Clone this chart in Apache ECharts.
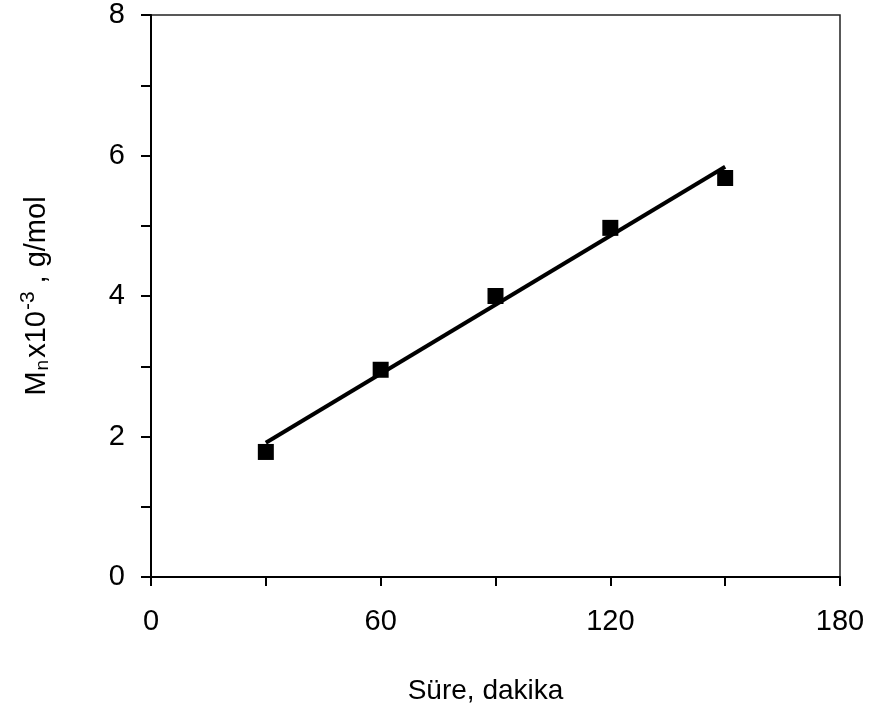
<!DOCTYPE html>
<html>
<head>
<meta charset="utf-8">
<script src="https://cdn.jsdelivr.net/npm/echarts@6/dist/echarts.min.js"></script>
<style>
  html, body { margin: 0; padding: 0; background: #fff; }
  #chart { width: 873px; height: 722px; }
</style>
</head>
<body>
<div id="chart"></div>
<script>
// ölçüm noktaları (süre, dakika -> Mn x 10^-3)
var times = [30, 60, 90, 120, 150];
var mnValues = [1.78, 2.95, 4.0, 4.97, 5.68];
// doğrusal eğilim çizgisinin uçları
var fitTimes = [30, 150];
var fitValues = [1.91, 5.84];

var font = 'Liberation Sans, Arial, sans-serif';

function pairs(xs, ys){
    var out = [];
    for (var i = 0; i < xs.length; i++) out.push([xs[i], ys[i]]);
    return out;
}

var chart = echarts.init(document.getElementById('chart'));
var option = {
    backgroundColor: '#fff',
    animation: false,
    grid: {
        left: 151,
        right: 33,
        top: 15,
        bottom: 145,
        show: true,
        borderColor: '#222',
        borderWidth: 1.5
    },
    xAxis: {
        type: 'value',
        min: 0,
        max: 180,
        interval: 30,
        name: 'Süre, dakika',
        nameLocation: 'middle',
        nameGap: 100,
        nameTextStyle: { fontFamily: font, fontSize: 28, color: '#000', padding: [0, 20, 0, 0] },
        axisLine: { onZero: false, lineStyle: { color: '#000', width: 2 } },
        axisTick: { show: true, length: 9, lineStyle: { color: '#000', width: 2 } },
        axisLabel: {
            margin: 30,
            fontFamily: font,
            fontSize: 29,
            color: '#000',
            formatter: function (v) { return v % 60 === 0 ? String(v) : ''; }
        },
        splitLine: { show: false }
    },
    yAxis: {
        type: 'value',
        min: 0,
        max: 8,
        interval: 1,
        name: '{b|M}{s|n}{b|x10}{p|-3}{b|, g/mol}',
        nameLocation: 'middle',
        nameGap: 92,
        nameTextStyle: {
            fontFamily: font,
            fontSize: 29,
            color: '#000',
            rich: {
                b: { fontFamily: font, fontSize: 29, color: '#000', lineHeight: 44, verticalAlign: 'middle' },
                s: { fontFamily: font, fontSize: 19, color: '#000', lineHeight: 44, verticalAlign: 'middle', padding: [12, 2, 0, 1] },
                p: { fontFamily: font, fontSize: 21, color: '#000', lineHeight: 44, verticalAlign: 'middle', padding: [0, 8, 18, 1] }
            }
        },
        axisLine: { onZero: false, lineStyle: { color: '#000', width: 2 } },
        axisTick: { show: true, length: 10, lineStyle: { color: '#000', width: 2 } },
        axisLabel: {
            margin: 26,
            fontFamily: font,
            fontSize: 29,
            color: '#000',
            formatter: function (v) { return v % 2 === 0 ? String(v) : ''; }
        },
        splitLine: { show: false }
    },
    series: [{
        name: 'fit',
        type: 'line',
        data: pairs(fitTimes, fitValues),
        showSymbol: false,
        symbol: 'none',
        lineStyle: { color: '#000', width: 4 },
        z: 2
    }, {
        name: 'Mn',
        type: 'scatter',
        data: pairs(times, mnValues),
        symbol: 'rect',
        symbolSize: 16,
        itemStyle: { color: '#000', opacity: 1 },
        z: 3
    }]
};
chart.setOption(option);
</script>
</body>
</html>
